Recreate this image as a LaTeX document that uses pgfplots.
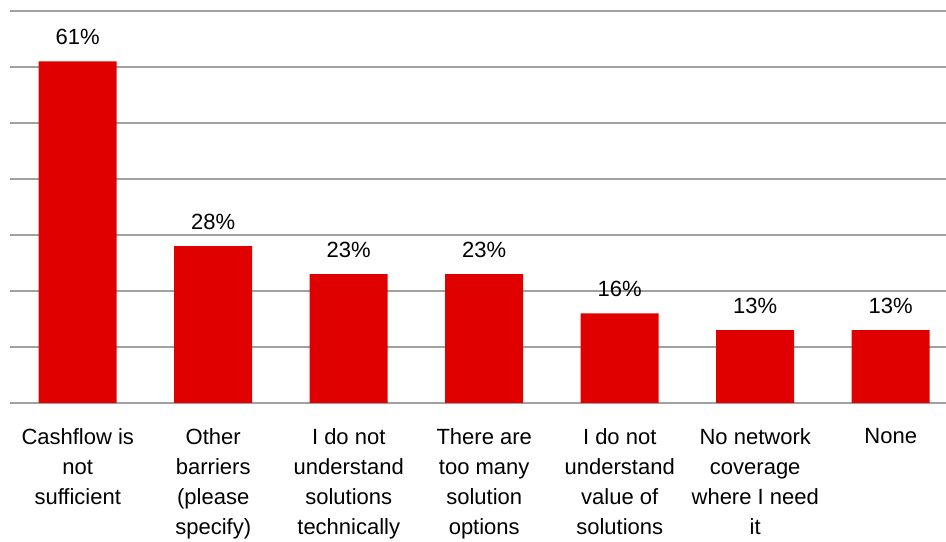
\documentclass[border=0pt]{standalone}
\usepackage{pgfplots}
\pgfplotsset{compat=1.18}
\usepackage{fontspec}
\setmainfont{Liberation Sans}
\definecolor{vred}{HTML}{E00000}
\definecolor{gridgray}{HTML}{A0A0A0}
\begin{document}
\begin{tikzpicture}
\begin{axis}[name=ax,
 scale only axis, width=702pt, height=294pt,
 ybar, bar width=58.5pt,
 xmin=-0.5, xmax=6.408,
 ymin=0, ymax=70,
 ytick={0,10,...,70}, yticklabels={},
 ymajorgrids, grid style={gridgray, line width=1pt},
 axis line style={draw=none},
 xtick={0,...,6},
 xticklabels={{Cashflow is\\not\\sufficient},{Other\\barriers\\(please\\specify)},{I do not\\understand\\solutions\\technically},{There are\\too many\\solution\\options},{I do not\\understand\\value of\\solutions},{No network\\coverage\\where I need\\it},{None}},
 xticklabel style={align=center, font=\fontsize{16.5}{22.5}\selectfont, anchor=north, yshift=-15.5pt},
 major tick length=0,
 tick style={draw=none},
 /pgf/number format/assume math mode=true,
 nodes near coords={\pgfmathprintnumber{\pgfplotspointmeta}\%},
 nodes near coords style={font=\fontsize{16.5}{20}\selectfont, text=black, yshift=9pt},
 clip=false,
]
\addplot[fill=vred, draw=none] coordinates {(0,61) (1,28) (2,23) (3,23) (4,16) (5,13) (6,13)};
\end{axis}
\pgfresetboundingbox
\path[use as bounding box] ([xshift=-7.5pt,yshift=-104.25pt]ax.south west) rectangle ([yshift=8.25pt]ax.north east);
\end{tikzpicture}
\end{document}
